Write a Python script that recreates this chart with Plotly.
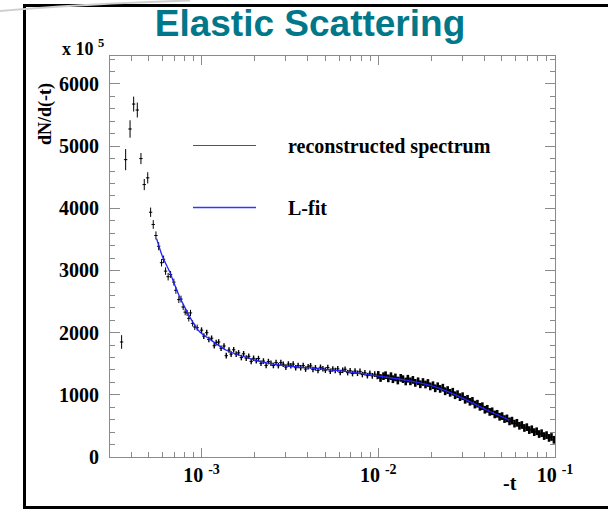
import plotly.graph_objects as go

# ---------------- data ----------------
# individual low-|t| bins  (t in units of 1e-4)
low_t_e4 = [3.53, 3.72, 3.94, 4.13, 4.33, 4.54, 4.74, 4.96, 5.15, 5.33, 5.52, 5.72,
            5.94, 6.10, 6.26, 6.47, 6.68, 6.97, 7.16, 7.44, 7.65, 7.87, 8.08, 8.29,
            8.47, 8.66, 8.90, 9.16, 9.45]
low_y = [1850, 4783, 5276, 5677, 5581, 4800, 4382, 4490, 3937, 3740, 3563, 3390,
         3125, 3180, 2990, 2900, 2937, 2813, 2680, 2531, 2540, 2413, 2330, 2317,
         2230, 2317, 2150, 2092, 2080]
low_err = [110, 170, 140, 120, 120, 90, 90, 90, 75, 70, 65, 65,
           60, 60, 60, 60, 55, 55, 55, 55, 55, 50, 50, 50,
           50, 50, 50, 50, 50]

# sampling mantissas used for the two dense decades
mant = [1.00, 1.03, 1.07, 1.10, 1.14, 1.18, 1.21, 1.25, 1.29, 1.34,
        1.38, 1.43, 1.47, 1.52, 1.57, 1.62, 1.68, 1.73, 1.79, 1.85,
        1.91, 1.97, 2.04, 2.10, 2.17, 2.24, 2.32, 2.39, 2.47, 2.55,
        2.64, 2.72, 2.81, 2.90, 3.00, 3.10, 3.20, 3.30, 3.41, 3.52,
        3.64, 3.76, 3.88, 4.01, 4.14, 4.27, 4.41, 4.56, 4.71, 4.86,
        5.02, 5.18, 5.35, 5.53, 5.71, 5.90, 6.09, 6.29, 6.49, 6.71,
        6.93, 7.15, 7.39, 7.63, 7.88, 8.13, 8.40, 8.68, 8.96, 9.25,
        9.55, 9.86]

# decade 1e-3 .. 1e-2
mid_y = [2040, 1945, 2000, 1890, 1910, 1790, 1840, 1850, 1750, 1785,
         1630, 1720, 1655, 1725, 1655, 1675, 1600, 1660, 1590, 1620,
         1538, 1588, 1548, 1583, 1508, 1543, 1473, 1535, 1508, 1472,
         1520, 1469, 1518, 1492, 1446, 1495, 1467, 1494, 1436, 1473,
         1435, 1472, 1414, 1451, 1467, 1408, 1434, 1391, 1443, 1420,
         1397, 1439, 1380, 1415, 1392, 1418, 1359, 1395, 1411, 1357,
         1387, 1342, 1382, 1347, 1377, 1326, 1355, 1308, 1347, 1305,
         1333, 1295]
mid_err = 45

# decade 1e-2 .. 1e-1
high_y = [1320, 1271, 1300, 1316, 1265, 1300, 1251, 1280, 1230, 1273,
          1252, 1215, 1259, 1217, 1240, 1192, 1218, 1170, 1206, 1166,
          1191, 1135, 1155, 1105, 1138, 1095, 1115, 1057, 1077, 1032,
          1050, 993, 1011, 963, 978, 920, 936, 888, 903, 843,
          857, 807, 817, 760, 775, 725, 735, 685, 695, 647,
          658, 610, 621, 573, 585, 537, 550, 502, 515, 467,
          480, 433, 446, 400, 414, 369, 383, 337, 352, 307,
          322, 277]
high_err = 62

# L-fit curve
fit_t = [5.57e-4, 6.0e-4, 6.62e-4, 7.0e-4, 7.53e-4, 8.0e-4, 8.59e-4, 9.2e-4,
         9.78e-4, 1.1e-3, 1.38e-3, 1.875e-3, 2.33e-3, 3.15e-3, 4.47e-3, 6.9e-3,
         1.017e-2, 1.44e-2, 2.04e-2, 2.88e-2, 4.08e-2, 5.52e-2]
fit_y = [3510, 3230, 2970, 2790, 2570, 2420, 2250, 2110,
         2010, 1905, 1717, 1584, 1514, 1460, 1423, 1370,
         1300, 1236, 1140, 972, 760, 594]

x_tickvals = [1e-3, 1e-2, 1e-1]
x_ticktext = ["10 <sup>-3</sup>", "10 <sup>-2</sup>", "10 <sup>-1</sup>"]

legend_labels = ["reconstructed spectrum", "L-fit"]
# ----------------------------------------------------------------

low_t = [v * 1e-4 for v in low_t_e4]
mid_t = [m * 1e-3 for m in mant]
high_t = [m * 1e-2 for m in mant]

W, H = 608, 510
L, R, T, B = 110, 555, 56, 457


def px(x):
    return (x - L) / (R - L)


def py(y):
    return (B - y) / (B - T)


SERIF = "Liberation Serif"
GRID = "#8a8a8a"

fig = go.Figure()


def spectrum(t, y, err_kw, thick=1.0, xpct=2.2):
    fig.add_trace(go.Scatter(
        x=t, y=y, mode="markers",
        marker=dict(size=1, color="black"),
        error_y=dict(width=0, thickness=thick, color="black", **err_kw),
        error_x=dict(type="percent", value=xpct, width=0, thickness=1.0, color="black"),
        hoverinfo="skip", showlegend=False,
    ))


spectrum(low_t, low_y, dict(type="data", array=low_err))
spectrum(mid_t, mid_y, dict(type="constant", value=mid_err), 1.4)
spectrum(high_t, high_y, dict(type="constant", value=high_err), 2.6)

fig.add_trace(go.Scatter(
    x=fit_t, y=fit_y, mode="lines",
    line=dict(color="#2222ff", width=1.3, shape="spline", smoothing=0.8),
    hoverinfo="skip", showlegend=False,
))

axis_common = dict(
    showline=True, linecolor=GRID, linewidth=1, mirror="ticks",
    ticks="inside", tickcolor=GRID, showgrid=False, zeroline=False,
    tickfont=dict(family=SERIF, size=20, color="black", weight="bold"),
)

fig.update_xaxes(
    type="log", range=[-3.518, -1],
    tickmode="array", tickvals=x_tickvals, ticktext=x_ticktext,
    ticklen=9,
    minor=dict(ticks="inside", ticklen=5, tickcolor=GRID, dtick="D1", showgrid=False),
    **axis_common,
)
fig.update_yaxes(
    range=[0, 6450], tick0=0, dtick=1000, ticklen=10, ticklabelstandoff=6,
    minor=dict(ticks="inside", ticklen=5, tickcolor=GRID, dtick=200, showgrid=False),
    **axis_common,
)

shapes = []
# slide border
shapes.append(dict(type="line", xref="paper", yref="paper",
                   x0=px(24.5), x1=px(612), y0=py(5.5), y1=py(5.5),
                   line=dict(color="black", width=3)))
shapes.append(dict(type="line", xref="paper", yref="paper",
                   x0=px(24.5), x1=px(24.5), y0=py(4), y1=py(509),
                   line=dict(color="black", width=3)))
shapes.append(dict(type="line", xref="paper", yref="paper",
                   x0=px(23), x1=px(612), y0=py(507.5), y1=py(507.5),
                   line=dict(color="black", width=3)))
# faint slide decoration at the top-left
shapes.append(dict(type="path", xref="paper", yref="paper",
                   path=f"M {px(0)},{py(11)} Q {px(80)},{py(4)} {px(190)},{py(0.5)}",
                   line=dict(color="#cfcfcf", width=2)))
# legend samples
shapes.append(dict(type="line", xref="paper", yref="paper",
                   x0=px(193), x1=px(256), y0=py(145.5), y1=py(145.5),
                   line=dict(color="#555555", width=1)))
shapes.append(dict(type="line", xref="paper", yref="paper",
                   x0=px(193), x1=px(256), y0=py(207.5), y1=py(207.5),
                   line=dict(color="#3535ff", width=1.3)))

annotations = [
    dict(text=legend_labels[0], x=px(286), y=py(146), xref="paper", yref="paper",
         xanchor="left", yanchor="middle", showarrow=False,
         font=dict(family=SERIF, size=20, color="black", weight="bold")),
    dict(text=legend_labels[1], x=px(286), y=py(208), xref="paper", yref="paper",
         xanchor="left", yanchor="middle", showarrow=False,
         font=dict(family=SERIF, size=20, color="black", weight="bold")),
    dict(text="x 10 <sup>5</sup>", x=px(60), y=py(48), xref="paper", yref="paper",
         xanchor="left", yanchor="middle", showarrow=False,
         font=dict(family=SERIF, size=18, color="black", weight="bold")),
    dict(text="dN/d(-t)", x=px(45), y=py(114), xref="paper", yref="paper",
         xanchor="center", yanchor="middle", textangle=-90, showarrow=False,
         font=dict(family=SERIF, size=18, color="black", weight="bold")),
    dict(text="-t", x=px(510), y=py(483), xref="paper", yref="paper",
         xanchor="center", yanchor="middle", showarrow=False,
         font=dict(family=SERIF, size=20, color="black", weight="bold")),
]

fig.update_layout(
    width=W, height=H,
    margin=dict(l=L, r=W - R, t=T, b=H - B, pad=0, autoexpand=False),
    paper_bgcolor="white", plot_bgcolor="white",
    showlegend=False,
    title=dict(text="Elastic Scattering", x=310 / W, xanchor="center",
               y=1 - 23 / H, yanchor="middle", xref="container", yref="container",
               font=dict(family="Liberation Sans", size=37, color="#00788A", weight="bold")),
    shapes=shapes, annotations=annotations,
)

fig.write_html("out.html", config={"displayModeBar": False},
               post_script="document.body.style.margin='0';")
